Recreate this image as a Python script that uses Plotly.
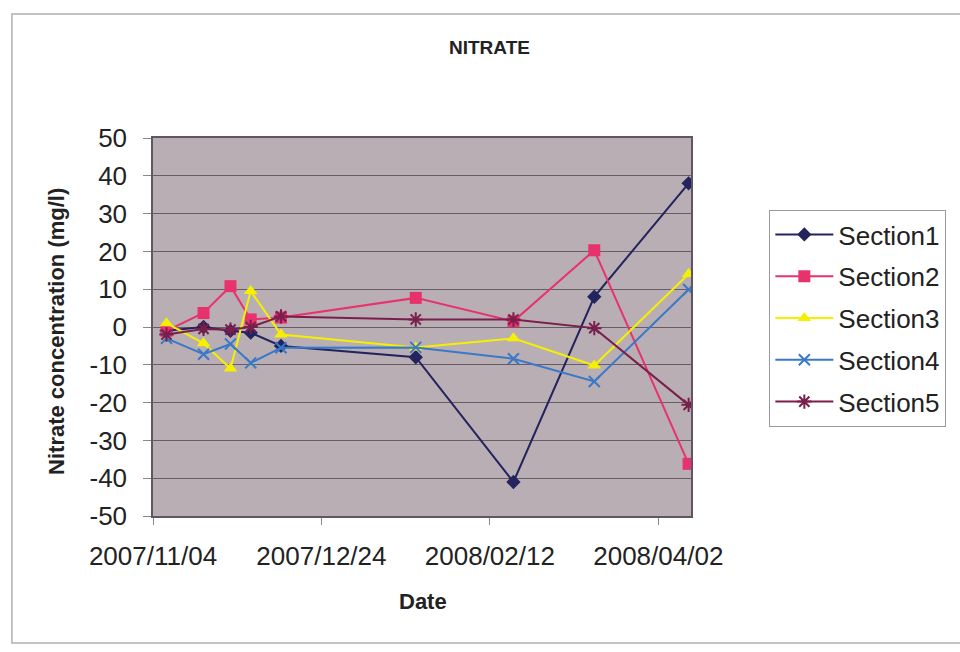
import plotly.graph_objects as go

dates = ["2007-11-08", "2007-11-19", "2007-11-27", "2007-12-03", "2007-12-12",
         "2008-01-21", "2008-02-19", "2008-03-14", "2008-04-11"]
section1 = [-1, 0, -1, -1.5, -5, -8, -41, 8, 38]
section2 = [-1, 3.7, 10.8, 2, 2.5, 7.7, 1.5, 20.3, -36.2]
section3 = [1, -4.3, -11, 9.5, -2, -5.4, -3, -10.2, 14]
section4 = [-3, -7.2, -4.5, -9.5, -5.5, -5.4, -8.4, -14.4, 9.9]
section5 = [-2, -0.5, -0.7, 0, 2.8, 2, 2, -0.3, -20.6]
names = ["Section1", "Section2", "Section3", "Section4", "Section5"]
colors = ["#23235e", "#e8326e", "#f5f000", "#3a78c8", "#7a1f4c"]
symbols = ["diamond", "square", "triangle-up", "x-thin", "asterisk"]
sizes = [11, 12, 12, 11, 12]
tick_vals_y = list(range(-50, 51, 10))
tick_text_y = [str(v) for v in tick_vals_y]

L, R, T, B = 153, 690.7, 138, 516
W, H = 960, 652
pw, ph = R - L, B - T

fig = go.Figure()
for i, ys in enumerate([section1, section2, section3, section4, section5]):
    open_sym = symbols[i] in ("x-thin", "asterisk")
    fig.add_trace(go.Scatter(
        x=dates, y=ys, name=names[i], mode="lines+markers",
        legendgroup=names[i],
        line=dict(color=colors[i], width=2),
        marker=dict(symbol=symbols[i], size=sizes[i], color=colors[i],
                    line=dict(color=colors[i], width=2 if open_sym else 0)),
    ))

def px(xp):
    return (xp - L) / pw

def py(yp):
    return (B - yp) / ph

font_family = "Liberation Sans, Arial, Helvetica, sans-serif"
fig.update_layout(
    width=W, height=H,
    margin=dict(l=L, r=W - R, t=T, b=H - B),
    paper_bgcolor="white",
    plot_bgcolor="#b8aeb4",
    font=dict(family=font_family, color="#222222"),
    showlegend=True,
    legend=dict(
        x=px(769), y=py(210), xanchor="left", yanchor="top",
        bordercolor="#9a9a9a", borderwidth=1, bgcolor="white",
        font=dict(size=26, family=font_family, color="#222222"),
        tracegroupgap=5, itemwidth=58,
    ),
    xaxis=dict(
        type="date",
        range=["2007-11-04", "2008-04-11 17:00"],
        tick0="2007-11-04", dtick=50 * 86400000,
        tickformat="%Y/%m/%d",
        ticks="outside", ticklen=7, tickcolor="#888888",
        tickfont=dict(size=26),
        ticklabelstandoff=9,
        showgrid=False, showline=True, linecolor="#5e5660", linewidth=1.5,
        mirror=True, zeroline=False,
    ),
    yaxis=dict(
        range=[-50, 50], tickvals=tick_vals_y, ticktext=tick_text_y,
        ticks="outside", ticklen=8, tickcolor="#888888",
        tickfont=dict(size=26),
        ticklabelstandoff=11,
        showgrid=True, gridcolor="#665d66", gridwidth=1,
        showline=True, linecolor="#5e5660", linewidth=1.5,
        mirror=True, zeroline=False,
    ),
    shapes=[dict(type="rect", xref="paper", yref="paper",
                 x0=px(12), x1=px(964), y0=py(643), y1=py(14),
                 line=dict(color="#b0b0b0", width=1.5), fillcolor="rgba(0,0,0,0)",
                 layer="below")],
    annotations=[
        dict(text="<b>NITRATE</b>", xref="paper", yref="paper",
             x=px(489), y=py(47), showarrow=False,
             xanchor="center", yanchor="middle",
             font=dict(size=19, family=font_family, color="#222222")),
        dict(text="<b>Nitrate concentration (mg/l)</b>", xref="paper", yref="paper",
             x=px(56), y=py(331), showarrow=False, textangle=-90,
             xanchor="center", yanchor="middle",
             font=dict(size=22, family=font_family, color="#222222")),
        dict(text="<b>Date</b>", xref="paper", yref="paper",
             x=px(423), y=py(601), showarrow=False,
             xanchor="center", yanchor="middle",
             font=dict(size=22, family=font_family, color="#222222")),
    ],
)

fig.write_html("out.html")
